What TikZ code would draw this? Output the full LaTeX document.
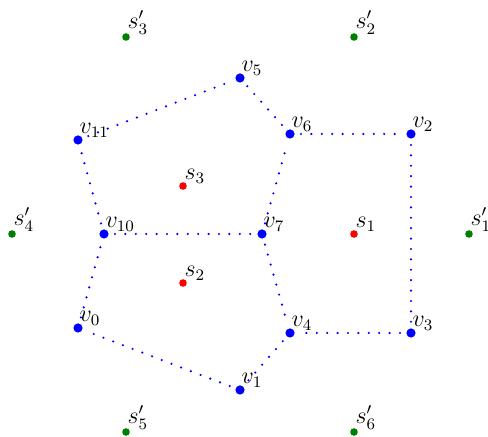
\documentclass[tikz,border=0pt]{standalone}
\begin{document}
\begin{tikzpicture}[x=0.5pt,y=-0.5pt,font=\large,
  vdot/.style={circle,fill=blue,inner sep=0pt,minimum size=4.6pt},
  sdot/.style={circle,fill=red,inner sep=0pt,minimum size=3.8pt},
  gdot/.style={circle,fill=green!50!black,inner sep=0pt,minimum size=3.8pt},
  lab/.style={anchor=south west,inner sep=0pt,xshift=0.6pt,yshift=1.2pt},
  edge/.style={blue,line width=1.2pt,line cap=round,dash pattern=on 0pt off 5.2pt,shorten >=3pt,shorten <=3pt}]
\useasboundingbox (0,0) rectangle (488,437);
% vertices
\node[vdot] (v0) at (78,328) {};
\node[vdot] (v1) at (240,390) {};
\node[vdot] (v2) at (411,134) {};
\node[vdot] (v3) at (411,333) {};
\node[vdot] (v4) at (290,333) {};
\node[vdot] (v5) at (240,78) {};
\node[vdot] (v6) at (290,134) {};
\node[vdot] (v7) at (262,234) {};
\node[vdot] (v10) at (104,234) {};
\node[vdot] (v11) at (78,140) {};
\node[sdot] (s1) at (354,234) {};
\node[sdot] (s2) at (183,283) {};
\node[sdot] (s3) at (183,186) {};
\node[gdot] (t1) at (469,234) {};
\node[gdot] (t2) at (354,37) {};
\node[gdot] (t3) at (126,37) {};
\node[gdot] (t4) at (12,234) {};
\node[gdot] (t5) at (126,432) {};
\node[gdot] (t6) at (354,432) {};
% labels
\foreach \n/\t in {v0/v_0,v1/v_1,v2/v_2,v3/v_3,v4/v_4,v5/v_5,v6/v_6,v7/v_7,v10/v_{10},v11/v_{11},
  s1/s_1,s2/s_2,s3/s_3,t1/s'_1,t2/s'_2,t3/s'_3,t4/s'_4,t5/s'_5,t6/s'_6}
  \node[lab] (l\n) at (\n.center) {$\t$};
% edges
\draw[edge] (v11) -- (v5);
\draw[edge] (v5) -- (v6);
\draw[edge] (v6) -- (v2);
\draw[edge] (v2) -- (v3);
\draw[edge] (v3) -- (v4);
\draw[edge] (v4) -- (v1);
\draw[edge] (v1) -- (v0);
\draw[edge] (v0) -- (v10);
\draw[edge] (v10) -- (v11);
\draw[edge] (v10) -- (v7);
\draw[edge] (v7) -- (v6);
\draw[edge] (v7) -- (v4);
\end{tikzpicture}
\end{document}
